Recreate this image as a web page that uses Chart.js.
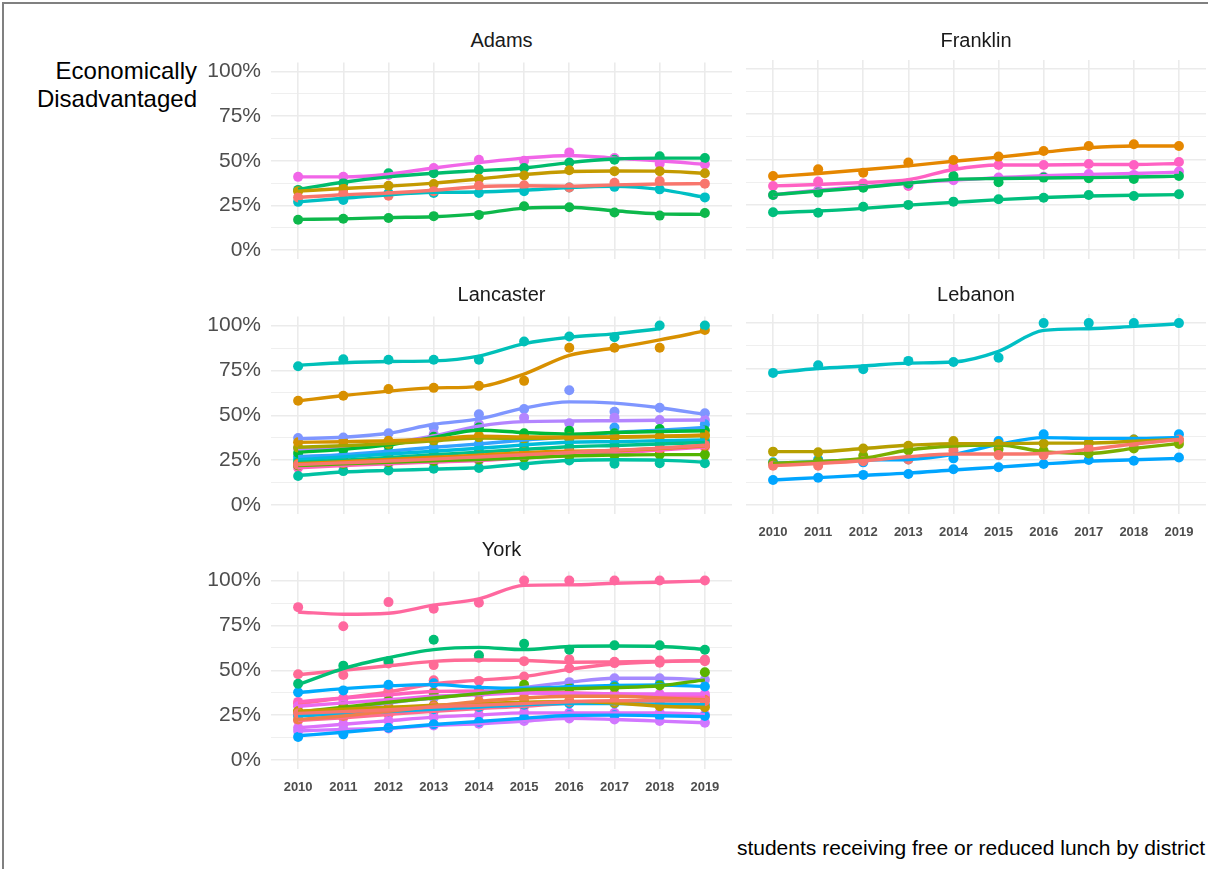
<!DOCTYPE html>
<html><head><meta charset="utf-8">
<script src="https://cdn.jsdelivr.net/npm/chart.js@4.4.1/dist/chart.umd.min.js"></script>
<style>
body{margin:0;width:1208px;height:869px;background:#fff;overflow:hidden;position:relative;font-family:"Liberation Sans",Arial,sans-serif}
.frame{position:absolute;left:2px;top:2px;width:1230px;height:900px;border:2px solid #808080;box-sizing:border-box}
canvas{position:absolute}
.strip{position:absolute;font-size:20px;line-height:24px;color:#1a1a1a;text-align:center}
.ytitle{position:absolute;right:1011px;top:57px;font-size:24px;line-height:28px;text-align:right;color:#000;white-space:nowrap}
.caption{position:absolute;right:3px;top:836px;font-size:21px;line-height:24px;color:#000;white-space:nowrap}
</style></head>
<body>
<div class="frame"></div>
<div class="ytitle">Economically<br>Disadvantaged</div>
<div class="caption">students receiving free or reduced lunch by district</div>
<script>
const years = [2010,2011,2012,2013,2014,2015,2016,2017,2018,2019];
const yTicks = [0,0.125,0.25,0.375,0.5,0.625,0.75,0.875,1];

// ---- Adams ----
const adamsColors = ['#F8766D','#C49A00','#0DB84B','#00BC6C','#00BFC4','#F166E8'];
const adamsPoints = [
  [29.5,31.8,30.4,33,36,36.3,35,37.7,38.7,37.2],
  [33,34.5,36,37,40,41.8,44.7,44.2,44.2,43],
  [17,17.5,18,19,19.7,24.5,24,21,19.3,20.8],
  [33.7,37.5,43,43,45,46,49,50.6,52.5,51.6],
  [27,28,32,32,32,33,35,35.4,34,29.5],
  [41,41,42,46,50.6,50,54.7,51.6,48.4,48]
];
const adamsFits = [
  [29.5,31,32,33.5,35.5,36,35.8,36.5,37,37.2],
  [33,34.5,35.8,37.5,39.8,42.3,44,44.3,44.2,43],
  [17.2,17.5,18.2,18.7,20.3,23.5,24,22,20.3,20],
  [34,38,41,43,44.5,46,49,51,51.5,51.5],
  [27,29,31,32.3,32.5,33.5,35,35.7,34,29.5],
  [41,41,42.5,46,49,51.5,53,51.5,50,48]
];

// ---- Franklin ----
const franklinColors = ['#E58700','#00BF7D','#00BD5C','#E76BF3','#FF61C3'];
const franklinPoints = [
  [40.9,44.6,42.7,48.3,49.7,51.6,54.7,57.5,58.4,57.5],
  [20.8,20.6,23.9,24.9,26.7,28,28.9,30.4,29.8,30.8],
  [30.4,31.7,34.4,36.8,40.9,37.4,40,39.6,39.2,40.9],
  [30.4,33,35,36,38.5,40,40.5,42,41.5,43.3],
  [35.4,37.8,36.8,35.4,46,47,47,47.5,47,48.6]
];
const franklinFits = [
  [40.5,42.3,44.3,46.5,49,51.3,54,56.5,57.5,57.5],
  [20.6,21.5,23,24.8,26.3,27.8,29,29.8,30.2,30.6],
  [30.6,32.5,34.5,37,39,39.5,39.8,40,40.3,40.8],
  [30.5,33,35,37,38.5,40,41,41.8,42.3,43],
  [35.4,36.2,37.3,38.8,44.5,47,47,47.2,47.2,47.8]
];

// ---- Lancaster ----
const lancasterColors = ['#F8766D','#E08B00','#D39200','#A3A500','#53B400','#00BA38','#00C08B','#00C1A2','#00BBDA','#35A2FF','#00C0B8','#D89000','#B385FF','#7F96FF','#FF62BC'];
const lancasterPoints = [
  [22.5,23.5,24.5,25.6,26.8,28,29.5,30.5,31.5,33.5],
  [23,24,25.3,26.5,27.8,29.4,30.3,29.9,31,33],
  [35,35.5,35.8,36.8,38.6,38,37.7,38,38.2,39],
  [32,33,34,35.8,37.7,37,37.5,37.8,38,38.6],
  [22,23,23.8,24.6,25.4,26.3,27.6,27.8,28.1,28.1],
  [29,31,33,38,43.2,40,41.4,40,42.3,41.5],
  [23.9,25,26.5,28,29.5,31,32.5,33,34,34.9],
  [16.2,18.9,19.3,20.2,20.6,22,24.8,23,23.3,23.3],
  [25.2,27,28.5,30,31.5,33.5,36.8,34.9,35.5,36.2],
  [27,28,30,32.2,34,36.2,38,43.2,41.7,45],
  [77.3,81.2,81,81,81,91.1,93.9,93.5,100,100],
  [58.1,60.9,64.6,65.3,66.4,69.2,87.6,87.6,87.6,97.5],
  [31.5,32,34,39.5,45,48.7,45.6,48.7,47.4,47.4],
  [37.3,37.6,40,43.2,50.6,53.5,64,52,54.2,51.1],
  [20.8,22,23,23.9,24.8,26.3,27.6,28.9,30.7,32.2]
];
const lancasterFits = [
  [22.5,23.5,24.5,25.6,26.8,28,29.3,30.5,31.7,33.3],
  [23,24.2,25.4,26.6,27.8,29.2,30,30.3,31.5,33],
  [34.9,35.3,35.8,36.8,38.3,38,37.8,38,38.3,39],
  [32.2,33,34.2,35.8,37.3,37.2,37.5,37.8,38.2,38.6],
  [22,23,23.8,24.6,25.4,26.3,27.4,27.8,28.1,28.1],
  [29.4,31,33.5,37.7,41.7,40.4,39.5,40.4,41,41.4],
  [23.9,25,26.5,28,29.5,31,32.5,33.2,34,34.9],
  [16.5,18.4,19.3,20,20.8,23,24.8,25.2,25,23.9],
  [25.2,26.8,28.4,30,31.6,33.5,35,35.3,35.8,36.2],
  [27,28.1,30,32.2,34,36.2,38,40.4,41.7,43.2],
  [77.9,79.3,80,80.3,83,89.9,93.5,95.4,98.2,null],
  [58,61,63.5,65.3,66,73,83.4,87.5,92,97],
  [31,32,34.5,38.5,44,46.5,46.8,47,47.2,47.4],
  [37,37.8,40,45,48,54,57.5,56.8,54.2,50.5],
  [20.8,22,23,23.9,24.8,26.3,27.6,28.9,30.7,32.2]
];

// ---- Lebanon ----
const lebanonColors = ['#F8766D','#B79F00','#7CAE00','#00BFC4','#00A9FF','#00A5FF'];
const lebanonPoints = [
  [21.6,21.6,24,25,29.8,27.4,27.4,31,33.5,36],
  [29.3,28.9,31,32.5,35.1,33.5,33.8,34,36,35.5],
  [23,24,27,30,32,30.7,29.8,28.3,31,33.5],
  [72.6,76.8,74.6,79.2,78.6,81,100,100,100,100],
  [23.4,25,23.4,25,25.6,35.1,38.8,34,36,38.8],
  [13.7,15,16.5,17,19.6,20.7,22.5,24.7,24.3,26.1]
];
const lebanonFits = [
  [21.6,22.8,24.3,26.5,28,28,28.3,30.5,33.5,36],
  [29.3,29.3,31,32.8,33.7,33.7,34,34,35,36],
  [22.9,23.8,25.6,30.2,32.4,32.9,29.3,28.3,31.1,33.8],
  [72.6,75,76.4,78,78.6,84.5,96,96.9,98.2,99.6],
  [22.9,23.8,24.7,25,27.8,33.3,37,36.6,36.6,37.1],
  [13.7,15,16.3,17.5,19.2,20.8,22.5,24,24.8,25.6]
];

// ---- York ----
const yorkColors = ['#F8766D','#EF7F49','#C49A00','#5BB300','#00BE74','#00B6EB','#00ABFD','#00A6FF','#A58AFF','#D177FF','#DC71FA','#EC69EF','#FF62BC','#FF6A98','#FF6C91','#FF689F','#FF6B96'];
const yorkPoints = [
  [26,27,28,29.5,30.5,31.5,32.5,33,33,32.8],
  [22.6,24.5,27.2,30,32.7,34.6,35.5,35.5,34.6,33.6],
  [27.2,28.3,29.4,30.5,31.5,32.2,32.7,31.8,30,29.4],
  [27,30,33,37.3,37.5,41.9,40,40.5,41.5,48.9],
  [42.5,52.6,55,67,58.4,64.8,61.5,63.9,63.9,61.5],
  [24.5,25.8,27,28.3,29.5,30.8,31.5,31.5,31.2,30.8],
  [37.7,38.8,41.9,42.8,39.2,40,41,41.5,42.3,41],
  [12.9,14.3,18,19.9,21.3,23.5,25,25,24.5,24.5],
  [25.4,28.1,31.8,34.6,37.3,40.4,43.4,45.6,45.6,44.7],
  [16.2,17.1,17.6,19.3,20.2,21.7,23.2,22.6,21.7,20.8],
  [18,19.9,21.9,23.9,25.1,26.3,26.3,26.3,26.3,25.4],
  [30,31.8,33.6,35.5,36.4,37.3,37,36.8,36.8,36.8],
  [32.4,34.6,36.4,38.2,38.5,38.2,37.5,36.8,36,35.5],
  [31.5,34,38.7,44.5,44.1,46.5,51.1,54,55.5,55],
  [22,23.5,25.4,27.2,28.7,30,31.8,32.7,33.6,34.6],
  [85.2,74.5,88,84.3,87.6,100,100,100,100,100],
  [47.8,47.4,53.8,52.9,57,55.1,56.2,54.7,54.2,56]
];
const yorkFits = [
  [26,27,28,29.5,30.5,31.5,32.5,33,33,32.8],
  [22.6,24.5,27.2,30,32.7,34.6,35.5,35.5,34.6,33.6],
  [27.2,28.3,29.4,30.5,31.5,32.2,32.7,31.8,30,29.4],
  [26.7,29.4,32.2,34.6,37,39.2,39.7,40.4,41.4,44.7],
  [42,51,57,61.5,62.8,61.5,63.3,63.5,63.3,61.7],
  [24.5,25.8,27,28.3,29.5,30.8,31.5,31.5,31.2,30.8],
  [37.5,39.8,41.3,42,40.5,40,40.8,41.5,41.8,41],
  [13.5,15.5,17.7,19.8,21.5,23.3,24.8,25,24.7,24.2],
  [25.4,28.1,31.8,34.6,37.3,40.4,43.4,45.6,45.6,44.7],
  [16.2,17.1,17.6,19.3,20.2,21.7,23.2,22.6,21.7,20.8],
  [18,19.9,21.9,23.9,25.1,26.3,26.3,26.3,26.3,25.4],
  [30,31.8,33.6,35.5,36.4,37.3,37,36.8,36.8,36.8],
  [32.4,34.6,36.4,38.2,38.5,38.2,37.5,36.8,36,35.5],
  [31.3,34.6,38,42.5,44.5,46.5,50.5,53.5,54.8,55.5],
  [22,23.5,25.4,27.2,28.7,30,31.8,32.7,33.6,34.6],
  [82.5,81.2,81.8,86.3,89.8,97.3,97.6,98.5,99.1,99.8],
  [47.5,50,52.5,55,55.7,55.5,54.5,54.7,55,55.3]
];

const panelNames = ['Adams','Franklin','Lancaster','Lebanon','York'];

Chart.defaults.font.family = '"Liberation Sans", Arial, sans-serif';

const layout = [
  {L:271, T:60,  W:461, H:199, yl:true,  xl:false, c:adamsColors, p:adamsPoints, f:adamsFits, sy:28},
  {L:746, T:60,  W:460, H:199, yl:false, xl:false, c:franklinColors, p:franklinPoints, f:franklinFits, sy:28},
  {L:271, T:314, W:461, H:200, yl:true,  xl:false, c:lancasterColors, p:lancasterPoints, f:lancasterFits, sy:282},
  {L:746, T:314, W:460, H:200, yl:false, xl:true,  c:lebanonColors, p:lebanonPoints, f:lebanonFits, sy:282},
  {L:271, T:569, W:461, H:200, yl:true,  xl:true,  c:yorkColors, p:yorkPoints, f:yorkFits, sy:537}
];

const AW = 90, PT = 20, PR = 20, XH = 40;
layout.forEach((P, idx) => {
  const strip = document.createElement('div');
  strip.className = 'strip';
  strip.style.left = P.L + 'px'; strip.style.width = P.W + 'px'; strip.style.top = P.sy + 'px';
  strip.textContent = panelNames[idx];
  document.body.appendChild(strip);

  const cv = document.createElement('canvas');
  const cw = P.W + AW + PR, ch = P.H + PT + XH;
  cv.width = cw; cv.height = ch;
  cv.style.left = (P.L - AW) + 'px'; cv.style.top = (P.T - PT) + 'px';
  cv.style.width = cw + 'px'; cv.style.height = ch + 'px';
  document.body.appendChild(cv);

  const datasets = [];
  P.p.forEach((arr, i) => {
    datasets.push({
      type: 'scatter', order: 2,
      data: arr.map((v, k) => v == null ? null : {x: years[k], y: v / 100}).filter(d => d),
      backgroundColor: P.c[i], borderWidth: 0, pointRadius: 5, pointHoverRadius: 5
    });
  });
  P.f.forEach((arr, i) => {
    datasets.push({
      type: 'line', order: 1,
      data: arr.map((v, k) => ({x: years[k], y: v == null ? null : v / 100})),
      borderColor: P.c[i], borderWidth: 3.4, pointRadius: 0, tension: 0.3,
      cubicInterpolationMode: 'monotone', spanGaps: false, fill: false
    });
  });

  new Chart(cv, {
    type: 'scatter',
    data: {datasets},
    options: {
      responsive: false, animation: false, devicePixelRatio: 1,
      layout: {padding: {top: PT, right: PR, left: 0, bottom: 0}},
      plugins: {legend: {display: false}, tooltip: {enabled: false}},
      events: [],
      scales: {
        x: {
          type: 'linear', min: 2009.4, max: 2019.6,
          afterBuildTicks: s => { s.ticks = years.map(v => ({value: v})); },
          afterFit: s => { s.height = XH; },
          grid: {color: '#EBEBEB', lineWidth: 1.6, drawTicks: false},
          border: {display: false},
          ticks: {display: P.xl, padding: 11, color: '#4D4D4D', font: {size: 13, weight: 'bold'},
                  maxRotation: 0, autoSkip: false, callback: v => String(v)}
        },
        y: {
          type: 'linear', min: -0.05, max: 1.05,
          afterBuildTicks: s => { s.ticks = yTicks.map(v => ({value: v})); },
          afterFit: s => { s.width = AW; },
          grid: {color: '#EBEBEB', drawTicks: false,
                 lineWidth: c => (c.tick && Math.round(c.tick.value * 1000) % 250 === 0) ? 1.6 : 0.8},
          border: {display: false},
          ticks: {display: P.yl, padding: 10, color: '#4D4D4D', font: {size: 21}, autoSkip: false,
                  callback: v => { const p = Math.round(v * 1000); return p % 250 === 0 ? (p / 10) + '%' : ''; }}
        }
      }
    }
  });
});
</script>
</body></html>
